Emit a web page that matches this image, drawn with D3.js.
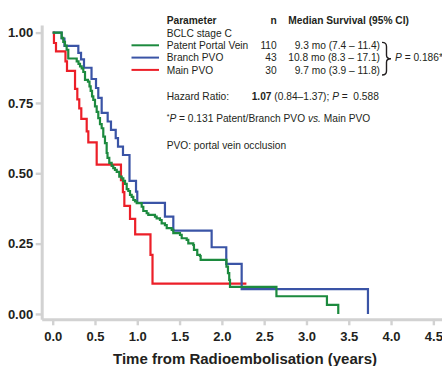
<!DOCTYPE html>
<html>
<head>
<meta charset="utf-8">
<script src="https://cdn.jsdelivr.net/npm/d3@7"></script>
<style>
  html, body { margin: 0; padding: 0; background: #fff; }
  svg { display: block; font-family: "Liberation Sans", Arial, Helvetica, sans-serif; }
</style>
</head>
<body>
<svg id="km" width="442" height="366"></svg>
<script>
// Kaplan-Meier curves (time in years, survival probability)
const patentTime = [0, 0.106, 0.125, 0.145, 0.165, 0.184, 0.284, 0.305, 0.323, 0.343, 0.362, 0.382, 0.417, 0.435, 0.449, 0.465, 0.480, 0.500, 0.520, 0.539, 0.559, 0.579, 0.598, 0.618, 0.638, 0.648, 0.669, 0.697, 0.716, 0.736, 0.757, 0.787, 0.816, 0.835, 0.855, 0.875, 0.894, 0.914, 0.934, 0.953, 0.973, 0.993, 1.052, 1.071, 1.111, 1.130, 1.209, 1.229, 1.268, 1.288, 1.327, 1.348, 1.407, 1.426, 1.505, 1.525, 1.584, 1.603, 1.662, 1.670, 1.709, 1.741, 1.749, 2.054, 2.072, 2.087, 2.096, 2.645, 3.242, 3.376];
const patentSurv = [1, 0.981, 0.967, 0.954, 0.939, 0.908, 0.898, 0.889, 0.880, 0.873, 0.860, 0.832, 0.826, 0.809, 0.793, 0.773, 0.761, 0.738, 0.718, 0.696, 0.675, 0.660, 0.630, 0.607, 0.572, 0.555, 0.537, 0.526, 0.518, 0.512, 0.505, 0.488, 0.482, 0.473, 0.462, 0.444, 0.437, 0.423, 0.416, 0.405, 0.400, 0.394, 0.381, 0.366, 0.358, 0.352, 0.346, 0.340, 0.334, 0.322, 0.316, 0.305, 0.299, 0.287, 0.281, 0.269, 0.263, 0.251, 0.245, 0.228, 0.210, 0.206, 0.192, 0.168, 0.145, 0.121, 0.096, 0.063, 0.032, 0];

const branchTime = [0, 0.106, 0.139, 0.303, 0.335, 0.370, 0.459, 0.512, 0.539, 0.579, 0.650, 0.689, 0.745, 0.772, 0.831, 0.908, 0.985, 1.0, 1.327, 1.426, 1.879, 2.052, 2.234, 3.727];
const branchSurv = [1, 0.979, 0.953, 0.928, 0.905, 0.875, 0.835, 0.803, 0.768, 0.715, 0.684, 0.654, 0.625, 0.595, 0.565, 0.473, 0.435, 0.395, 0.346, 0.296, 0.237, 0.178, 0.088, 0];

const mainTime = [0, 0.015, 0.039, 0.151, 0.169, 0.264, 0.291, 0.314, 0.338, 0.402, 0.421, 0.520, 0.807, 0.830, 0.847, 0.914, 0.975, 1.156, 1.180, 2.29];
const mainSurv = [1, 0.963, 0.933, 0.898, 0.864, 0.800, 0.763, 0.731, 0.693, 0.649, 0.610, 0.531, 0.476, 0.433, 0.384, 0.338, 0.283, 0.210, 0.108, 0.108];

const groupNames = ["Patent Portal Vein", "Branch PVO", "Main PVO"];
const groupN = ["110", "43", "30"];
const groupMedian = ["9.3 mo (7.4 \u2013 11.4)", "10.8 mo (8.3 \u2013 17.1)", "9.7 mo (3.9 \u2013 11.8)"];
const groupColors = ["#1c8a3e", "#3a54a6", "#ec1f28"];

const xTicks = [0, 0.5, 1, 1.5, 2, 2.5, 3, 3.5, 4, 4.5];
const yTicks = [0, 0.25, 0.5, 0.75, 1];

const svg = d3.select("#km");
const axisGrey = "#d2d2d2";
const textCol = "#231f20";

const x = d3.scaleLinear().domain([-0.13, 4.62]).range([41.7, 443.5]);
const y = d3.scaleLinear().domain([-0.019, 1.027]).range([319.3, 25]);

// axes
const xAxis = svg.append("g")
  .attr("transform", "translate(0," + y.range()[0] + ")")
  .call(d3.axisBottom(x).tickValues(xTicks).tickSize(6).tickSizeOuter(0).tickPadding(6).tickFormat(d3.format(".1f")));

const yAxis = svg.append("g")
  .attr("transform", "translate(" + x.range()[0] + ",0)")
  .call(d3.axisLeft(y).tickValues(yTicks).tickSize(6).tickSizeOuter(0).tickPadding(2.5).tickFormat(d3.format(".2f")));

[xAxis, yAxis].forEach(function (g) {
  g.select(".domain").attr("stroke", axisGrey).attr("stroke-width", 3);
  g.selectAll(".tick line").attr("stroke", axisGrey).attr("stroke-width", 2.4);
  g.selectAll(".tick text")
    .attr("fill", textCol)
    .style("font-size", "13px")
    .style("font-weight", "bold")
    .style("font-family", "'Liberation Sans', Arial, sans-serif");
});

svg.append("text")
  .attr("x", 245)
  .attr("y", 364)
  .attr("text-anchor", "middle")
  .attr("fill", textCol)
  .style("font-size", "15px")
  .style("font-weight", "bold")
  .text("Time from Radioembolisation (years)");

// curves
const line = d3.line()
  .x(function (d) { return x(d[0]); })
  .y(function (d) { return y(d[1]); })
  .curve(d3.curveStepAfter);

const series = [
  { times: mainTime, surv: mainSurv, color: groupColors[2] },
  { times: branchTime, surv: branchSurv, color: groupColors[1] },
  { times: patentTime, surv: patentSurv, color: groupColors[0] }
];

series.forEach(function (s) {
  svg.append("path")
    .datum(d3.zip(s.times, s.surv))
    .attr("d", line)
    .attr("fill", "none")
    .attr("stroke", s.color)
    .attr("stroke-width", 2.2);
});

// legend / annotation table
const fs = "10.2px";
const rowY = [24.3, 36.6, 48.9, 61.2, 73.5];
const colName = 166.7, colN = 276.7, colMed = 380;

function txt(xp, yp, str, opts) {
  opts = opts || {};
  return svg.append("text")
    .attr("x", xp).attr("y", yp)
    .attr("text-anchor", opts.anchor || "start")
    .attr("fill", textCol)
    .style("font-size", fs)
    .style("font-weight", opts.bold ? "bold" : "normal")
    .style("white-space", "pre")
    .text(str);
}

txt(colName, rowY[0], "Parameter", { bold: true });
txt(colN, rowY[0], "n", { bold: true, anchor: "end" });
txt(288.3, rowY[0], "Median Survival (95% CI)", { bold: true });
txt(colName, rowY[1], "BCLC stage C");

groupNames.forEach(function (name, i) {
  const yy = rowY[i + 2];
  txt(colName, yy, name);
  txt(colN, yy, groupN[i], { anchor: "end" });
  txt(colMed, yy, groupMedian[i], { anchor: "end" });
  svg.append("line")
    .attr("x1", 131.5).attr("x2", 159)
    .attr("y1", yy - 3.6).attr("y2", yy - 3.6)
    .attr("stroke", groupColors[i])
    .attr("stroke-width", 2);
});

// brace
const bTop = rowY[2] - 6.5, bBot = rowY[4] + 1.5, bMid = (bTop + bBot) / 2;
svg.append("path")
  .attr("d", "M382," + bTop + " Q386.5," + bTop + " 386.5," + (bTop + 4) +
    " L386.5," + (bMid - 3.5) + " Q386.5," + bMid + " 391," + bMid +
    " Q386.5," + bMid + " 386.5," + (bMid + 3.5) +
    " L386.5," + (bBot - 4) + " Q386.5," + bBot + " 382," + bBot)
  .attr("fill", "none")
  .attr("stroke", textCol)
  .attr("stroke-width", 1.4);

const pTxt = txt(395, rowY[3], "");
pTxt.append("tspan").style("font-style", "italic").text("P");
pTxt.append("tspan").text(" = 0.186*");

txt(colName, 99.6, "Hazard Ratio:");
const hr2 = txt(251.7, 99.6, "");
hr2.append("tspan").style("font-weight", "bold").text("1.07");
hr2.append("tspan").text(" (0.84\u20131.37); ");
hr2.append("tspan").style("font-style", "italic").text("P");
hr2.append("tspan").text(" =\u00a0 0.588");

const star = txt(colName, 122, "");
star.append("tspan").style("font-size", "7px").attr("dy", -3).text("*");
star.append("tspan").style("font-style", "italic").attr("dy", 3).text("P");
star.append("tspan").text(" = 0.131 Patent/Branch PVO ");
star.append("tspan").style("font-style", "italic").text("vs.");
star.append("tspan").text(" Main PVO");

txt(colName, 148.6, "PVO: portal vein occlusion");
</script>
</body>
</html>
